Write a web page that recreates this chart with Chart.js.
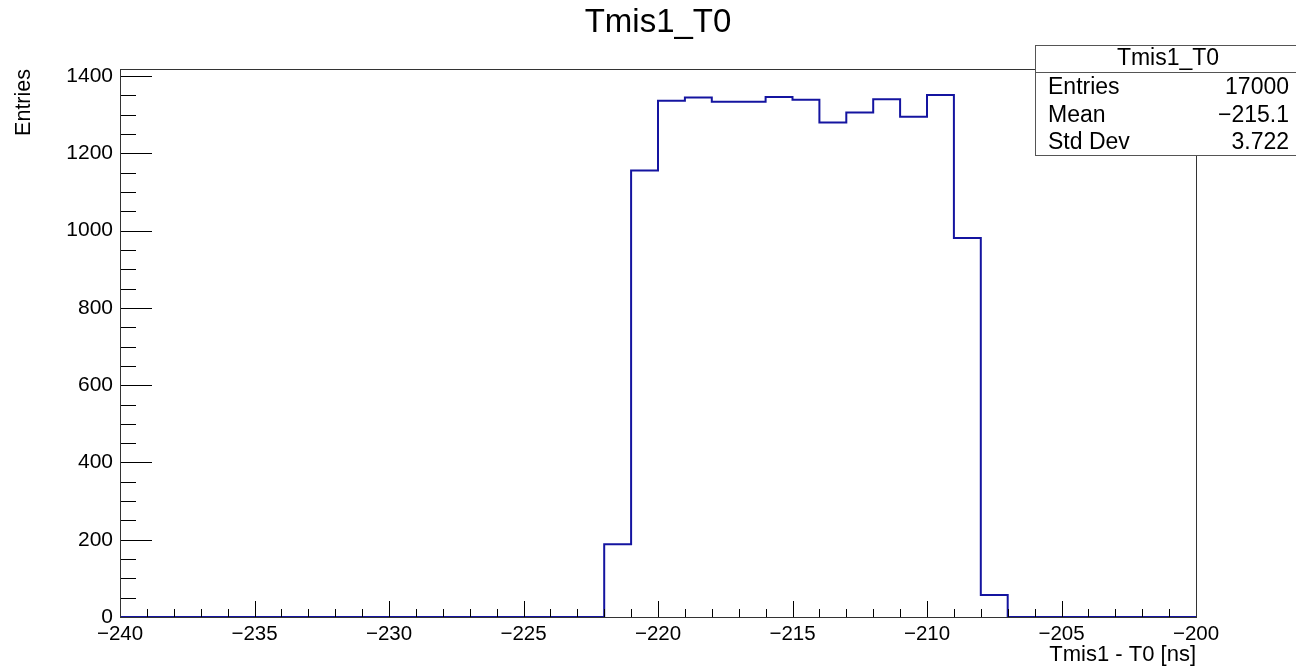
<!DOCTYPE html>
<html>
<head>
<meta charset="utf-8">
<script src="https://cdn.jsdelivr.net/npm/chart.js@4.4.1/dist/chart.umd.min.js"></script>
<style>
  html, body { margin: 0; padding: 0; background: #fff; }
  #wrap { width: 1296px; height: 669px; }
</style>
</head>
<body>
<div id="wrap"><canvas id="histChart"></canvas></div>
<script>
// histogram Tmis1_T0, 1 ns bins from -240 to -200
const binEdges = [-240, -239, -238, -237, -236, -235, -234, -233, -232, -231,
                  -230, -229, -228, -227, -226, -225, -224, -223, -222, -221,
                  -220, -219, -218, -217, -216, -215, -214, -213, -212, -211,
                  -210, -209, -208, -207, -206, -205, -204, -203, -202, -201, -200];
const counts = [0, 0, 0, 0, 0, 0, 0, 0, 0, 0,
                0, 0, 0, 0, 0, 0, 0, 0, 188, 1156,
                1336, 1345, 1334, 1334, 1346, 1339, 1280, 1306, 1340, 1295,
                1351, 981, 57, 0, 0, 0, 0, 0, 0, 0];
const xTicks = [-240, -235, -230, -225, -220, -215, -210, -205, -200];
const yTicks = [0, 200, 400, 600, 800, 1000, 1200, 1400];
const statLabels = ['Entries', 'Mean', 'Std Dev'];
const statValues = ['17000', '\u2212215.1', '3.722'];

const FONT = 'Liberation Sans, Arial, Helvetica, sans-serif';

// step points: each bin's left edge with its count, closed at last edge
const points = counts.map((c, i) => ({x: binEdges[i], y: c}));
points.push({x: binEdges[binEdges.length - 1], y: 0});

const minus = v => (v < 0 ? '\u2212' + Math.abs(v) : String(v));

// ROOT-like frame, inner ticks, title and stats box
const rootStyle = {
    id: 'rootStyle',
    afterDraw(chart) {
        const c = chart.ctx;
        const a = chart.chartArea;
        const xs = chart.scales.x, ys = chart.scales.y;
        c.save();
        c.strokeStyle = '#000';
        c.lineWidth = 1;
        c.beginPath();
        // x ticks: major every 5, minor every 1
        for (let v = -240; v <= -200; v++) {
            const px = Math.round(xs.getPixelForValue(v)) + 0.5;
            const len = (v % 5 === 0) ? 16 : 8;
            c.moveTo(px, a.bottom);
            c.lineTo(px, a.bottom - len);
        }
        // y ticks: major every 200, minor every 50
        for (let v = 0; v <= 1400; v += 50) {
            const py = Math.round(ys.getPixelForValue(v)) + 0.5;
            const len = (v % 200 === 0) ? 32 : 16;
            c.moveTo(a.left, py);
            c.lineTo(a.left + len, py);
        }
        c.stroke();
        // frame
        c.strokeStyle = '#333';
        c.strokeRect(Math.round(a.left) + 0.5, Math.round(a.top) + 0.5,
                     Math.round(a.right - a.left), Math.round(a.bottom - a.top));

        // title
        c.fillStyle = '#000';
        c.font = '33px ' + FONT;
        c.textAlign = 'center';
        c.textBaseline = 'middle';
        c.fillText('Tmis1_T0', 658, 23);

        // stats box
        const bx = 1035.5, by = 45.5, bw = 262, bh = 110;
        c.fillStyle = '#fff';
        c.fillRect(bx, by, bw, bh);
        c.strokeStyle = '#555';
        c.strokeRect(bx, by, bw, bh);
        c.beginPath();
        c.moveTo(bx, 72.5);
        c.lineTo(bx + bw, 72.5);
        c.stroke();
        c.fillStyle = '#000';
        c.font = '23px ' + FONT;
        c.textAlign = 'center';
        c.fillText('Tmis1_T0', 1168, 59);
        const rowsY = [88, 116, 143];
        statLabels.forEach((lab, i) => {
            c.textAlign = 'left';
            c.fillText(lab, 1048, rowsY[i]);
            c.textAlign = 'right';
            c.fillText(statValues[i], 1289, rowsY[i]);
        });
        c.restore();
    }
};

const ctx = document.getElementById('histChart').getContext('2d');

let histChart = new Chart(ctx, {
    type: 'line',
    data: {
        datasets: [{
            data: points,
            stepped: 'before',
            borderColor: '#1414a0',
            borderWidth: 2,
            pointRadius: 0,
            fill: false
        }]
    },
    options: {
        responsive: true,
        maintainAspectRatio: false,
        animation: false,
        layout: {
            padding: {left: 0, top: 69, right: 100, bottom: 0}
        },
        plugins: {
            legend: { display: false },
            tooltip: { enabled: false }
        },
        scales: {
            x: {
                type: 'linear',
                min: -240,
                max: -200,
                afterBuildTicks: s => { s.ticks = xTicks.map(v => ({value: v})); },
                afterFit: s => { s.height = 52; },
                grid: { display: false, drawTicks: false },
                border: { display: false },
                ticks: {
                    padding: 5,
                    maxRotation: 0,
                    autoSkip: false,
                    color: '#000',
                    font: { family: FONT, size: 20.5 },
                    callback: v => minus(v)
                },
                title: {
                    display: true,
                    text: 'Tmis1 - T0 [ns]',
                    align: 'end',
                    color: '#000',
                    font: { family: FONT, size: 22 },
                    padding: { top: 0, bottom: 1 }
                }
            },
            y: {
                min: 0,
                max: 1418.5,
                afterBuildTicks: s => { s.ticks = yTicks.map(v => ({value: v})); },
                afterFit: s => { s.width = 120; },
                grid: { display: false, drawTicks: false },
                border: { display: false },
                ticks: {
                    padding: 7,
                    autoSkip: false,
                    color: '#000',
                    font: { family: FONT, size: 21 },
                    callback: v => minus(v)
                },
                title: {
                    display: true,
                    text: 'Entries',
                    align: 'end',
                    color: '#000',
                    font: { family: FONT, size: 21.5 },
                    padding: { top: 11, bottom: 0 }
                }
            }
        }
    },
    plugins: [rootStyle]
});
</script>
</body>
</html>
